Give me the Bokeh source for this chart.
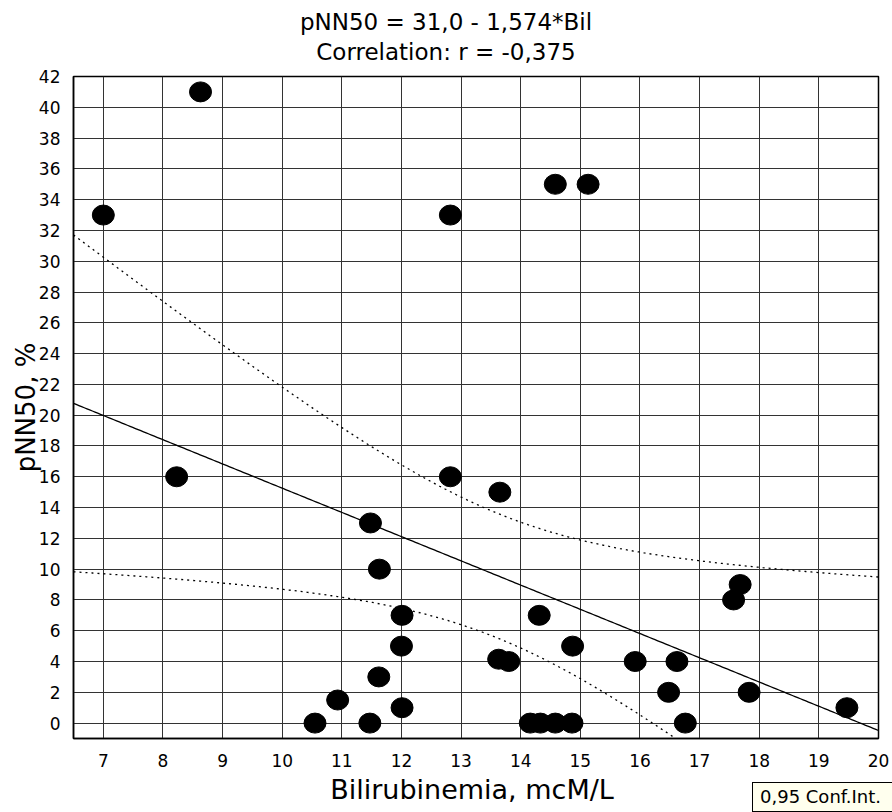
import numpy as np
from bokeh.plotting import figure
from bokeh.layouts import column
from bokeh.models import ColumnDataSource, Range1d, FixedTicker, Div
from bokeh.embed import file_html
from bokeh.resources import INLINE

# ---- data ----
bil = [7.0, 8.63, 8.23, 12.82, 14.58, 15.13, 12.82, 13.65, 11.48, 11.63,
       12.01, 12.0, 11.62, 10.93, 12.01, 10.55, 11.47, 14.31, 14.87, 13.63,
       13.8, 15.92, 16.62, 16.48, 17.83, 17.68, 17.57, 19.47, 16.76, 14.16,
       14.33, 14.58, 14.86]
pnn50 = [33, 41, 16, 33, 35, 35, 16, 15, 13, 10,
         7, 5, 3, 1.5, 1, 0, 0, 7, 5, 4.15,
         4, 4, 4, 2, 2, 9, 8, 1, 0, 0,
         0, 0, 0]

intercept = 31.0
slope = -1.574
x_ticks = list(range(7, 21))
y_ticks = list(range(0, 43, 2))
title1 = "pNN50 = 31,0 - 1,574*Bil"
title2 = "Correlation: r = -0,375"
x_label = "Bilirubinemia, mcM/L"
y_label = "pNN50, %"
legend_text = "0,95 Conf.Int."

FONT = "DejaVu Sans"

# ---- regression line and 95% confidence band of the mean ----
xa = np.array(bil, dtype=float)
ya = np.array(pnn50, dtype=float)
n = len(xa)
xbar = xa.mean()
sxx = ((xa - xbar) ** 2).sum()
resid = ya - (intercept + slope * xa)
s = np.sqrt((resid ** 2).sum() / (n - 2))
t975 = 2.0395  # t(0.975, df=31)
xs = np.linspace(6.5, 20, 300)
yfit = intercept + slope * xs
hw = t975 * s * np.sqrt(1.0 / n + (xs - xbar) ** 2 / sxx)

# ---- strip above: two title lines ----
top_html = (
    '<div style="position:relative;width:892px;height:66px;overflow:hidden;'
    'font-family:\'DejaVu Sans\';color:black;background:white;">'
    '<span style="position:absolute;left:446px;top:8px;'
    'transform:translateX(-50%);font-size:23px;line-height:28px;'
    'white-space:nowrap;">' + title1 + '</span>'
    '<span style="position:absolute;left:446px;top:38px;'
    'transform:translateX(-50%);font-size:23px;line-height:28px;'
    'white-space:nowrap;">' + title2 + '</span>'
    '</div>'
)
top = Div(text=top_html, width=892, height=66, margin=0)

# ---- main chart ----
p = figure(width=892, height=708, output_backend="svg", toolbar_location=None,
           x_range=Range1d(6.5, 20), y_range=Range1d(-1, 42),
           min_border_left=73, min_border_right=14,
           min_border_top=10, min_border_bottom=36, margin=0)

p.background_fill_color = "white"
p.border_fill_color = "white"
p.outline_line_color = "black"
p.outline_line_width = 1.5

for ax in (p.xaxis[0], p.yaxis[0]):
    ax.axis_line_color = "black"
    ax.axis_line_width = 1.5
    ax.major_tick_out = 0
    ax.major_tick_in = 0
    ax.minor_tick_out = 0
    ax.minor_tick_in = 0
    ax.major_label_text_font = FONT
    ax.major_label_text_font_size = "17px"
    ax.major_label_text_color = "black"
    ax.axis_label_text_font = FONT
    ax.axis_label_text_font_style = "normal"
    ax.axis_label_text_color = "black"

p.xaxis.ticker = FixedTicker(ticks=x_ticks)
p.yaxis.ticker = FixedTicker(ticks=y_ticks)
p.xaxis.major_label_standoff = 15
p.yaxis.major_label_standoff = 13
p.yaxis.axis_label = y_label
p.yaxis.axis_label_text_font_size = "26px"
p.yaxis.axis_label_standoff = -5

p.xgrid.ticker = FixedTicker(ticks=x_ticks)
p.ygrid.ticker = FixedTicker(ticks=y_ticks)
for g in (p.xgrid[0], p.ygrid[0]):
    g.grid_line_color = "#333333"
    g.grid_line_width = 1

p.line(xs, yfit, line_color="black", line_width=1.3)
p.line(xs, yfit + hw, line_color="black", line_width=1.3, line_dash="2 4")
p.line(xs, yfit - hw, line_color="black", line_width=1.3, line_dash="2 4")

src = ColumnDataSource(dict(x=bil, y=pnn50))
p.ellipse(x="x", y="y", width=22, height=20, width_units="screen",
          height_units="screen", source=src, fill_color="black",
          line_color="black")

# ---- strip below: x-axis title and the confidence-interval key ----
bottom_html = (
    '<div style="position:relative;width:892px;height:38px;overflow:hidden;'
    'font-family:\'DejaVu Sans\';color:black;background:white;">'
    '<span style="position:absolute;left:472px;top:1px;'
    'transform:translateX(-50%);font-size:27px;line-height:30px;'
    'white-space:nowrap;">' + x_label + '</span>'
    '<span style="position:absolute;left:752px;top:8px;width:160px;'
    'height:30px;box-sizing:border-box;border:1px solid black;'
    'background:#FFFFEE;padding-left:7px;font-size:18px;line-height:27px;'
    'white-space:nowrap;">' + legend_text + '</span>'
    '</div>'
)
bottom = Div(text=bottom_html, width=892, height=38, margin=0)

layout = column(top, p, bottom, spacing=0)
open("out.html", "w").write(file_html(layout, INLINE))
